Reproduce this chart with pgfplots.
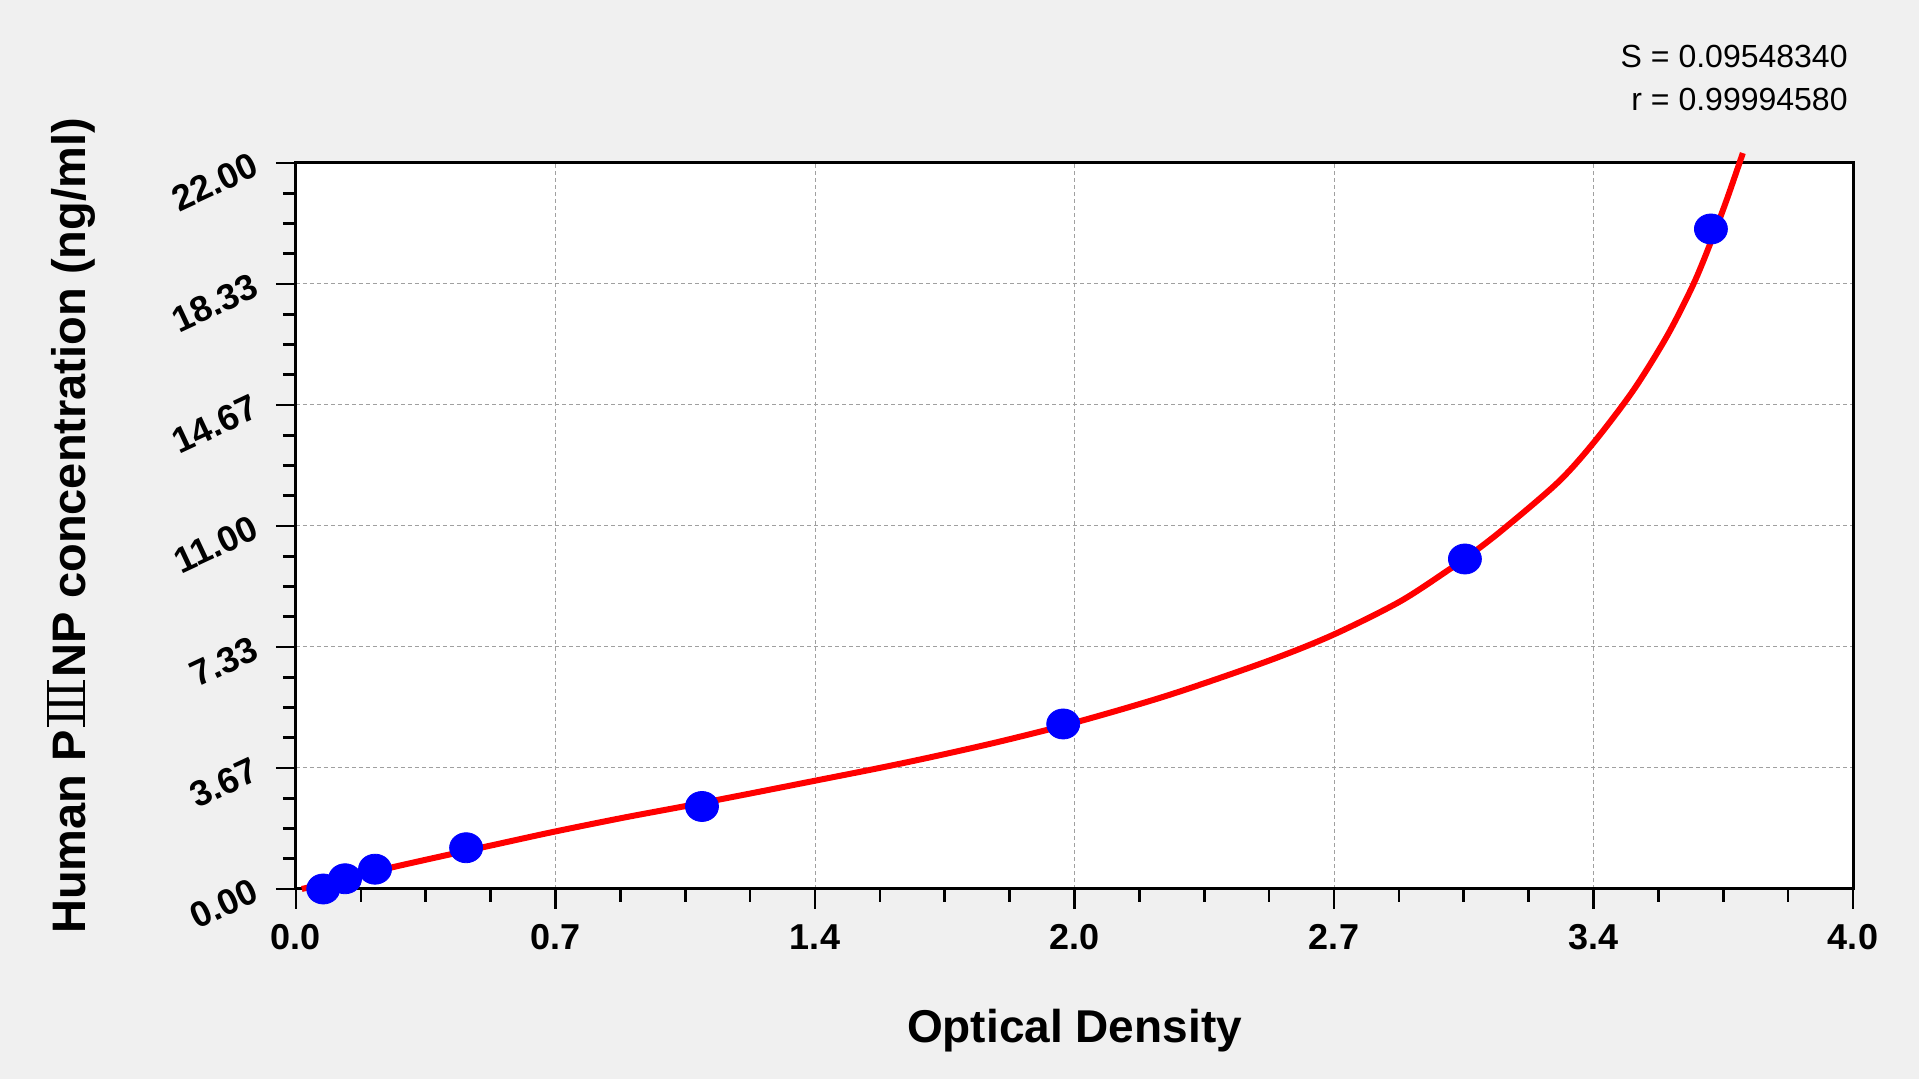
\documentclass[border=0pt]{standalone}
\usepackage{fontspec}
\setmainfont{Liberation Sans}
\newfontfamily\cjk{Noto Sans CJK SC}
\usepackage{pgfplots}
\pgfplotsset{compat=1.18}
\definecolor{bg}{HTML}{F0F0F0}
\definecolor{gridc}{HTML}{A0A0A0}
\newcommand\RomanIII{\kern1.5pt\vbox{\hrule height 0.9pt\hbox{\cjk\mdseries Ⅲ}\hrule height 0.9pt}\kern1.5pt}
\begin{document}
\begin{tikzpicture}
\fill[bg] (0,0) rectangle (959.5pt,539.5pt);
\begin{axis}[
  at={(148pt,95pt)}, anchor=south west,
  scale only axis, width=778.5pt, height=363pt,
  xmin=0, xmax=4, ymin=0, ymax=22,
  axis background/.style={fill=white},
  axis line style={line width=1.5pt},
  clip=false,
  xtick={0,0.6666667,1.3333333,2,2.6666667,3.3333333,4},
  xticklabels={0.0,0.7,1.4,2.0,2.7,3.4,4.0},
  ytick={0,3.6666667,7.3333333,11,14.6666667,18.3333333,22},
  yticklabels={0.00,3.67,7.33,11.00,14.67,18.33,22.00},
  minor x tick num=3, minor y tick num=3,
  tick align=outside, xtick pos=left, ytick pos=left,
  major tick length=10pt, minor tick length=6.5pt,
  tick style={black, line width=1.3pt},
  grid=major, major grid style={gridc, line width=0.5pt, dash pattern=on 2pt off 1.5pt},
  ticklabel style={font=\fontsize{18}{20}\selectfont\bfseries},
  xticklabel style={anchor=base, inner sep=0pt, yshift=-20.5pt},
  yticklabel style={anchor=east, inner sep=0pt, xshift=-10pt, rotate=25},
  xlabel={Optical Density},
  ylabel={Human P\RomanIII NP concentration (ng/ml)},
  every axis x label/.style={at={(axis description cs:0.5,0)}, anchor=base, yshift=-77pt, font=\fontsize{23}{26}\selectfont\bfseries},
  every axis y label/.style={at={(axis description cs:-0.1355,0.5)}, anchor=base, rotate=90, font=\fontsize{23.5}{26}\selectfont\bfseries},
]
\addplot[only marks, mark=*, mark size=8.25pt, color=blue, mark options={yscale=0.91}]
coordinates {
(0.070,0.0) (0.126,0.31) (0.203,0.60) (0.437,1.25) (1.043,2.50) (1.971,5.00) (3.003,10.00) (3.635,20.00)
};
\addplot[red, line width=3pt, smooth, tension=0.5, no marks]
coordinates {
(0.015,0.00) (0.100,0.24) (0.241,0.64) (0.400,1.06) (0.498,1.31) (0.661,1.73)
(0.841,2.16) (1.004,2.52) (1.170,2.90) (1.333,3.28) (1.500,3.67) (1.637,4.01)
(1.809,4.47) (2.000,5.04) (2.238,5.86) (2.495,6.90) (2.664,7.70) (2.836,8.71)
(2.965,9.70) (3.000,9.98) (3.093,10.82) (3.240,12.30) (3.332,13.50) (3.435,15.10)
(3.522,16.75) (3.589,18.30) (3.633,19.55) (3.676,20.90) (3.717,22.30)
};
\end{axis}
\node[anchor=base east, inner sep=0pt, font=\fontsize{16}{18}\selectfont] at (924pt,505.5pt) {S = 0.09548340};
\node[anchor=base east, inner sep=0pt, font=\fontsize{16}{18}\selectfont] at (924pt,484pt) {r = 0.99994580};
\end{tikzpicture}
\end{document}
